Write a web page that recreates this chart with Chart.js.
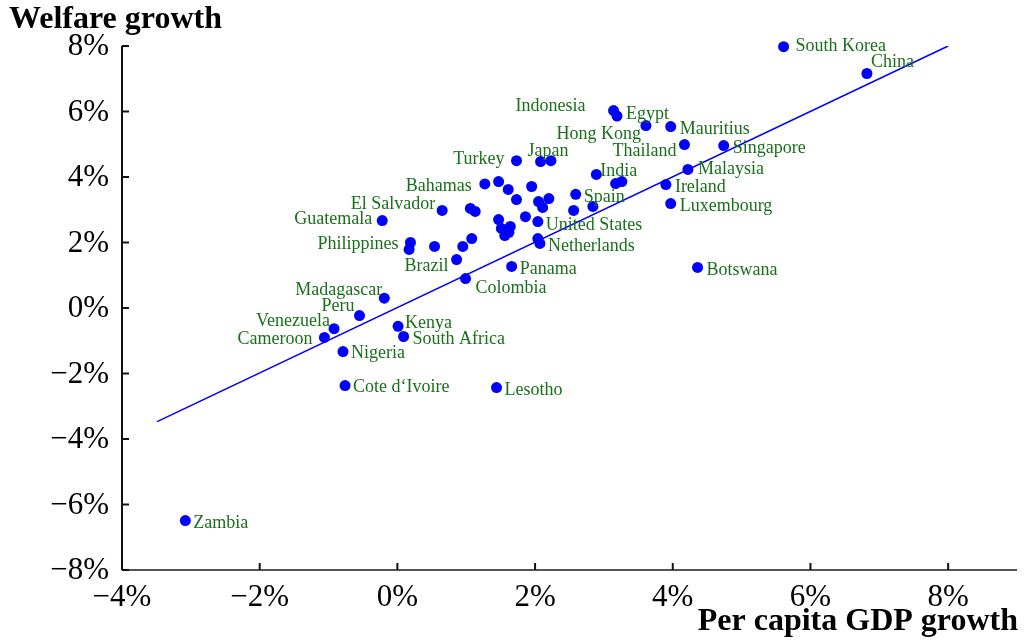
<!DOCTYPE html>
<html>
<head>
<meta charset="utf-8">
<script src="https://cdn.jsdelivr.net/npm/chart.js@4/dist/chart.umd.min.js"></script>
<style>
  html, body { margin: 0; padding: 0; background: #fff; }
  #wrap { width: 1024px; height: 641px; position: relative; }
</style>
</head>
<body>
<div id="wrap"><canvas id="c"></canvas></div>
<script>
// countries, per capita GDP growth (%) and welfare growth (%)
const countries = [
  "South Korea", "China", "Indonesia", "Egypt", "Hong Kong", "Mauritius", "Thailand", "Singapore",
  "Malaysia", "Ireland", "Luxembourg", "India", "", "", "", "Japan", "", "Turkey", "Bahamas", "",
  "", "", "", "", "", "", "Spain", "", "El Salvador", "", "", "", "", "United States", "", "",
  "", "", "", "Netherlands", "", "", "", "Brazil", "Guatemala", "Philippines", "", "Panama",
  "Colombia", "Madagascar", "Peru", "Venezuela", "Cameroon", "Nigeria", "Kenya", "South Africa",
  "Cote d\u2018Ivoire", "Lesotho", "Botswana", "Zambia"
];
const gdpGrowth = [
  5.61, 6.82, 3.14, 3.19, 3.61, 3.97, 4.17, 4.74,
  4.22, 3.90, 3.97, 2.89, 3.17, 3.26, 2.84, 2.08, 2.23, 1.73, 1.27, 1.47,
  1.61, 1.95, 1.73, 2.05, 2.20, 2.11, 2.59, 2.56, 0.65, 1.06, 1.13, 1.47, 1.86, 2.04, 1.51, 1.64,
  1.56, 1.62, 2.04, 2.07, 0.54, 0.95, 1.08, 0.86, -0.22, 0.19, 0.17, 1.66,
  0.99, -0.19, -0.55, -0.92, -1.06, -0.79, 0.01, 0.09,
  -0.76, 1.44, 4.36, -3.08
];
const welfareGrowth = [
  7.98, 7.16, 6.03, 5.86, 5.57, 5.54, 4.99, 4.96,
  4.23, 3.77, 3.19, 4.08, 3.80, 3.86, 3.10, 4.47, 4.50, 4.50, 3.79, 3.86,
  3.62, 3.71, 3.31, 3.25, 3.34, 3.07, 3.47, 2.98, 2.98, 3.04, 2.95, 2.70, 2.79, 2.64, 2.43, 2.49,
  2.21, 2.31, 2.12, 1.97, 1.88, 1.88, 2.12, 1.48, 2.67, 2.00, 1.79, 1.27,
  0.90, 0.30, -0.23, -0.63, -0.90, -1.33, -0.56, -0.87,
  -2.37, -2.43, 1.24, -6.49
];
// fitted line end points
const fitX = [-3.49, 8.0];
const fitY = [-3.47, 8.0];
// axis ticks
const xTicks = [-4, -2, 0, 2, 4, 6, 8];
const yTicks = [-8, -6, -4, -2, 0, 2, 4, 6, 8];

// label placement relative to its point: [dx, dy, align]
const labelPlace = {
  "South Korea": [12, -2, "left"], "China": [4, -13, "left"], "Indonesia": [-28, -6, "right"],
  "Egypt": [9, -4, "left"], "Hong Kong": [-5, 7, "right"], "Mauritius": [9, 1, "left"],
  "Thailand": [-8, 5, "right"], "Singapore": [9, 1, "left"], "Malaysia": [10, -2, "left"],
  "Ireland": [9, 1, "left"], "Luxembourg": [9, 1, "left"], "India": [4, -5, "left"],
  "Japan": [-13, -12, "left"], "Turkey": [-12, -3, "right"], "Bahamas": [-13, 0, "right"],
  "Spain": [8, 1, "left"], "El Salvador": [-7, -8, "right"], "United States": [8, 2, "left"],
  "Netherlands": [8, 1, "left"], "Brazil": [-8, 5, "right"], "Guatemala": [-10, -3, "right"],
  "Philippines": [-12, 0, "right"], "Panama": [8, 1, "left"], "Colombia": [10, 8, "left"],
  "Madagascar": [-2, -10, "right"], "Peru": [-5, -11, "right"], "Venezuela": [-4, -9, "right"],
  "Cameroon": [-12, 0, "right"], "Nigeria": [8, 0, "left"], "Kenya": [7, -5, "left"],
  "South Africa": [9, 1, "left"], "Cote d\u2018Ivoire": [8, 0, "left"], "Lesotho": [8, 1, "left"],
  "Botswana": [9, 1, "left"], "Zambia": [8, 1, "left"]
};

const SERIF = "'Liberation Serif', 'DejaVu Serif', serif";
const pct = v => (v < 0 ? "\u2212" + Math.abs(v) : String(v)) + "%";

const points = gdpGrowth.map((x, i) => ({ x: x, y: welfareGrowth[i] }));
const fitLine = fitX.map((x, i) => ({ x: x, y: fitY[i] }));

// axes, ticks, titles and point labels drawn by hand
const decorations = {
  id: "decorations",
  afterDatasetsDraw(chart) {
    const ctx = chart.ctx;
    const xs = chart.scales.x, ys = chart.scales.y;
    const area = chart.chartArea;
    ctx.save();

    // point labels
    const meta = chart.getDatasetMeta(1);
    ctx.font = "18px " + SERIF;
    ctx.fillStyle = "#1a701a";
    ctx.textBaseline = "middle";
    countries.forEach((name, i) => {
      if (!name) return;
      const p = meta.data[i];
      const pl = labelPlace[name] || [8, 0, "left"];
      ctx.textAlign = pl[2];
      ctx.fillText(name, p.x + pl[0], p.y + pl[1] + 2);
    });

    // axis lines
    ctx.lineWidth = 2;
    ctx.strokeStyle = "#111";
    ctx.beginPath();
    ctx.moveTo(area.left, ys.getPixelForValue(8));
    ctx.lineTo(area.left, area.bottom);
    ctx.stroke();
    ctx.strokeStyle = "#555";
    ctx.beginPath();
    ctx.moveTo(area.left, area.bottom);
    ctx.lineTo(area.right, area.bottom);
    ctx.stroke();

    // ticks and tick labels
    ctx.strokeStyle = "#111";
    ctx.fillStyle = "#000";
    ctx.font = "31px " + SERIF;
    ctx.textAlign = "right";
    ctx.textBaseline = "middle";
    yTicks.forEach(v => {
      const y = ys.getPixelForValue(v);
      ctx.beginPath();
      ctx.moveTo(area.left, y);
      ctx.lineTo(area.left + 7, y);
      ctx.stroke();
      ctx.fillText(pct(v), area.left - 13, y + 1);
    });
    ctx.textAlign = "center";
    xTicks.forEach(v => {
      const x = xs.getPixelForValue(v);
      ctx.beginPath();
      ctx.moveTo(x, area.bottom);
      ctx.lineTo(x, area.bottom - 7);
      ctx.stroke();
      ctx.fillText(pct(v), x, area.bottom + 28);
    });

    // titles
    ctx.font = "bold 32px " + SERIF;
    ctx.textAlign = "left";
    ctx.fillText("Welfare growth", 9, 20);
    ctx.textAlign = "right";
    ctx.fillText("Per capita GDP growth", 1018, 622);
    ctx.restore();
  }
};

new Chart(document.getElementById("c"), {
  type: "scatter",
  data: {
    datasets: [
      {
        type: "line",
        data: fitLine,
        borderColor: "#0000ff",
        borderWidth: 1.6,
        pointRadius: 0,
        fill: false,
        order: 2
      },
      {
        data: points,
        backgroundColor: "#0000ff",
        borderColor: "#0000ff",
        pointRadius: 5.5,
        pointHoverRadius: 5.5,
        borderWidth: 0,
        clip: false,
        order: 1
      }
    ]
  },
  options: {
    responsive: true,
    maintainAspectRatio: false,
    animation: false,
    events: [],
    layout: { padding: { left: 122, right: 7, top: 46, bottom: 71 } },
    plugins: { legend: { display: false }, tooltip: { enabled: false } },
    scales: {
      x: { type: "linear", min: -4, max: 9, display: false },
      y: { type: "linear", min: -8, max: 8, display: false }
    }
  },
  plugins: [decorations]
});
</script>
</body>
</html>
